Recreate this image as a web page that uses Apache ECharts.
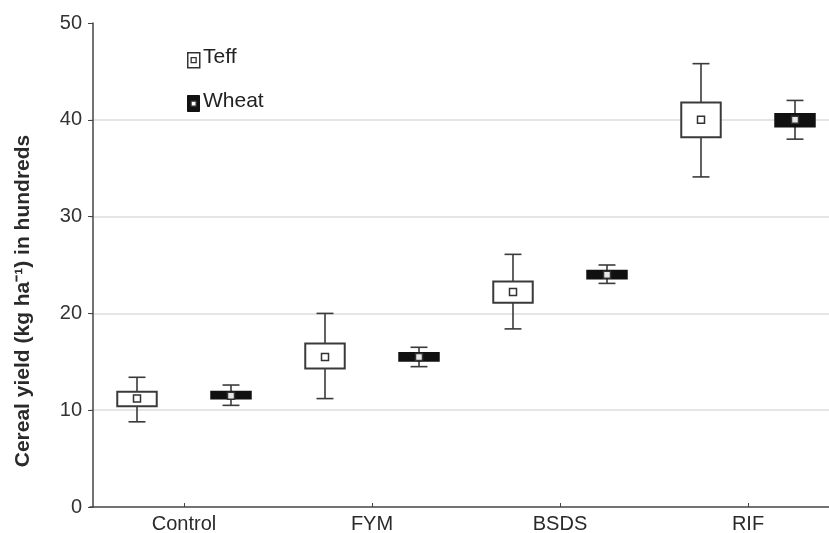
<!DOCTYPE html>
<html>
<head>
<meta charset="utf-8">
<script src="https://cdn.jsdelivr.net/npm/echarts@6/dist/echarts.min.js"></script>
<style>
  html, body { margin: 0; padding: 0; background: #fff; }
  #chart { width: 829px; height: 533px; }
</style>
</head>
<body>
<div id="chart"></div>
<script>
// Treatments on the x axis
const categories = ['Control', 'FYM', 'BSDS', 'RIF'];

// Teff: whisker low, box bottom, mean, box top, whisker high (hundreds of kg/ha)
const teffLow  = [8.8, 11.2, 18.4, 34.1];
const teffQ1   = [10.4, 14.3, 21.1, 38.2];
const teffMean = [11.2, 15.5, 22.2, 40.0];
const teffQ3   = [11.9, 16.9, 23.3, 41.8];
const teffHigh = [13.4, 20.0, 26.1, 45.8];

// Wheat: whisker low, box bottom, mean, box top, whisker high
const wheatLow  = [10.5, 14.5, 23.1, 38.0];
const wheatQ1   = [11.2, 15.1, 23.6, 39.3];
const wheatMean = [11.5, 15.5, 24.0, 40.0];
const wheatQ3   = [11.9, 15.9, 24.4, 40.6];
const wheatHigh = [12.6, 16.5, 25.0, 42.0];

// Y axis tick values
const yTicks = [0, 10, 20, 30, 40, 50];

function rows(low, q1, mean, q3, high) {
  return categories.map((c, i) => [i, low[i], q1[i], mean[i], q3[i], high[i]]);
}

// Box-and-whisker glyph placed left (-1) or right (+1) of the category centre
function makeRender(side, boxFill, boxStroke, markFill) {
  return function (params, api) {
    const idx = api.value(0);
    const band = api.size([1, 0])[0];
    const x = api.coord([idx, 0])[0] + side * band * 0.25;
    const yLow = api.coord([idx, api.value(1)])[1];
    const yQ1 = api.coord([idx, api.value(2)])[1];
    const yMean = api.coord([idx, api.value(3)])[1];
    const yQ3 = api.coord([idx, api.value(4)])[1];
    const yHigh = api.coord([idx, api.value(5)])[1];
    const boxW = band * 0.21;
    const capW = band * 0.09;
    const line = { stroke: '#3a3a3a', lineWidth: 1.6 };
    return {
      type: 'group',
      children: [
        { type: 'line', shape: { x1: x, y1: yLow, x2: x, y2: yHigh }, style: line },
        { type: 'line', shape: { x1: x - capW / 2, y1: yHigh, x2: x + capW / 2, y2: yHigh }, style: line },
        { type: 'line', shape: { x1: x - capW / 2, y1: yLow, x2: x + capW / 2, y2: yLow }, style: line },
        { type: 'rect', shape: { x: x - boxW / 2, y: yQ3, width: boxW, height: yQ1 - yQ3 },
          style: { fill: boxFill, stroke: boxStroke, lineWidth: 2 } },
        { type: 'rect', shape: { x: x - 3.5, y: yMean - 3.5, width: 7, height: 7 },
          style: { fill: markFill, stroke: '#333', lineWidth: 1.5 } }
      ]
    };
  };
}

const chart = echarts.init(document.getElementById('chart'), null, { renderer: 'canvas' });

const labelFont = 'Liberation Sans, Arial, sans-serif';

chart.setOption({
  animation: false,
  backgroundColor: '#ffffff',
  grid: { left: 90, top: 23, bottom: 26, right: -13, containLabel: false, outerBoundsMode: 'none' },
  xAxis: {
    type: 'category',
    data: categories,
    boundaryGap: true,
    axisLine: { lineStyle: { color: '#444', width: 1.5 } },
    axisTick: { show: true, inside: true, length: 4, alignWithLabel: true, lineStyle: { color: '#444' } },
    axisLabel: { color: '#2a2a2a', fontSize: 20, fontFamily: labelFont, margin: 7 },
    splitLine: { show: false }
  },
  yAxis: {
    type: 'value',
    offset: -3,
    min: yTicks[0],
    max: yTicks[yTicks.length - 1],
    interval: 10,
    name: 'Cereal yield (kg ha\u207B\u00B9) in hundreds',
    nameLocation: 'middle',
    nameGap: 59,
    nameRotate: 90,
    nameTextStyle: {
      color: '#2a2a2a', fontSize: 21, fontWeight: 'bold', fontFamily: labelFont,
      padding: [0, 72, 0, 0]
    },
    axisLine: { show: true, lineStyle: { color: '#444', width: 1.5 } },
    axisTick: { show: true, inside: false, length: 5, lineStyle: { color: '#444' } },
    axisLabel: { color: '#333', fontSize: 20, fontFamily: labelFont, margin: 11 },
    splitLine: { show: true, showMinLine: false, showMaxLine: false, lineStyle: { color: '#dcdcdc', width: 1.5 } }
  },
  graphic: [
    // Legend entries
    { type: 'rect', left: 187, top: 52, shape: { width: 12, height: 15 },
      style: { fill: '#fff', stroke: '#333', lineWidth: 1.5 } },
    { type: 'rect', left: 190.5, top: 57, shape: { width: 5, height: 5 },
      style: { fill: '#fff', stroke: '#333', lineWidth: 1.3 } },
    { type: 'text', left: 203, top: 47,
      style: { text: 'Teff', fill: '#222', font: '21px ' + labelFont } },
    { type: 'rect', left: 187, top: 95, shape: { width: 12, height: 16 },
      style: { fill: '#111', stroke: '#111', lineWidth: 1 } },
    { type: 'rect', left: 190.5, top: 100.5, shape: { width: 5, height: 5 },
      style: { fill: '#fff', stroke: '#333', lineWidth: 1.2 } },
    { type: 'text', left: 203, top: 91,
      style: { text: 'Wheat', fill: '#222', font: '21px ' + labelFont } }
  ],
  series: [
    {
      name: 'Teff',
      type: 'custom',
      renderItem: makeRender(-1, '#ffffff', '#3a3a3a', '#ffffff'),
      encode: { x: 0, y: [1, 2, 3, 4, 5] },
      data: rows(teffLow, teffQ1, teffMean, teffQ3, teffHigh),
      z: 3
    },
    {
      name: 'Wheat',
      type: 'custom',
      renderItem: makeRender(1, '#111111', '#111111', '#e8e8e8'),
      encode: { x: 0, y: [1, 2, 3, 4, 5] },
      data: rows(wheatLow, wheatQ1, wheatMean, wheatQ3, wheatHigh),
      z: 3
    }
  ]
});
</script>
</body>
</html>
